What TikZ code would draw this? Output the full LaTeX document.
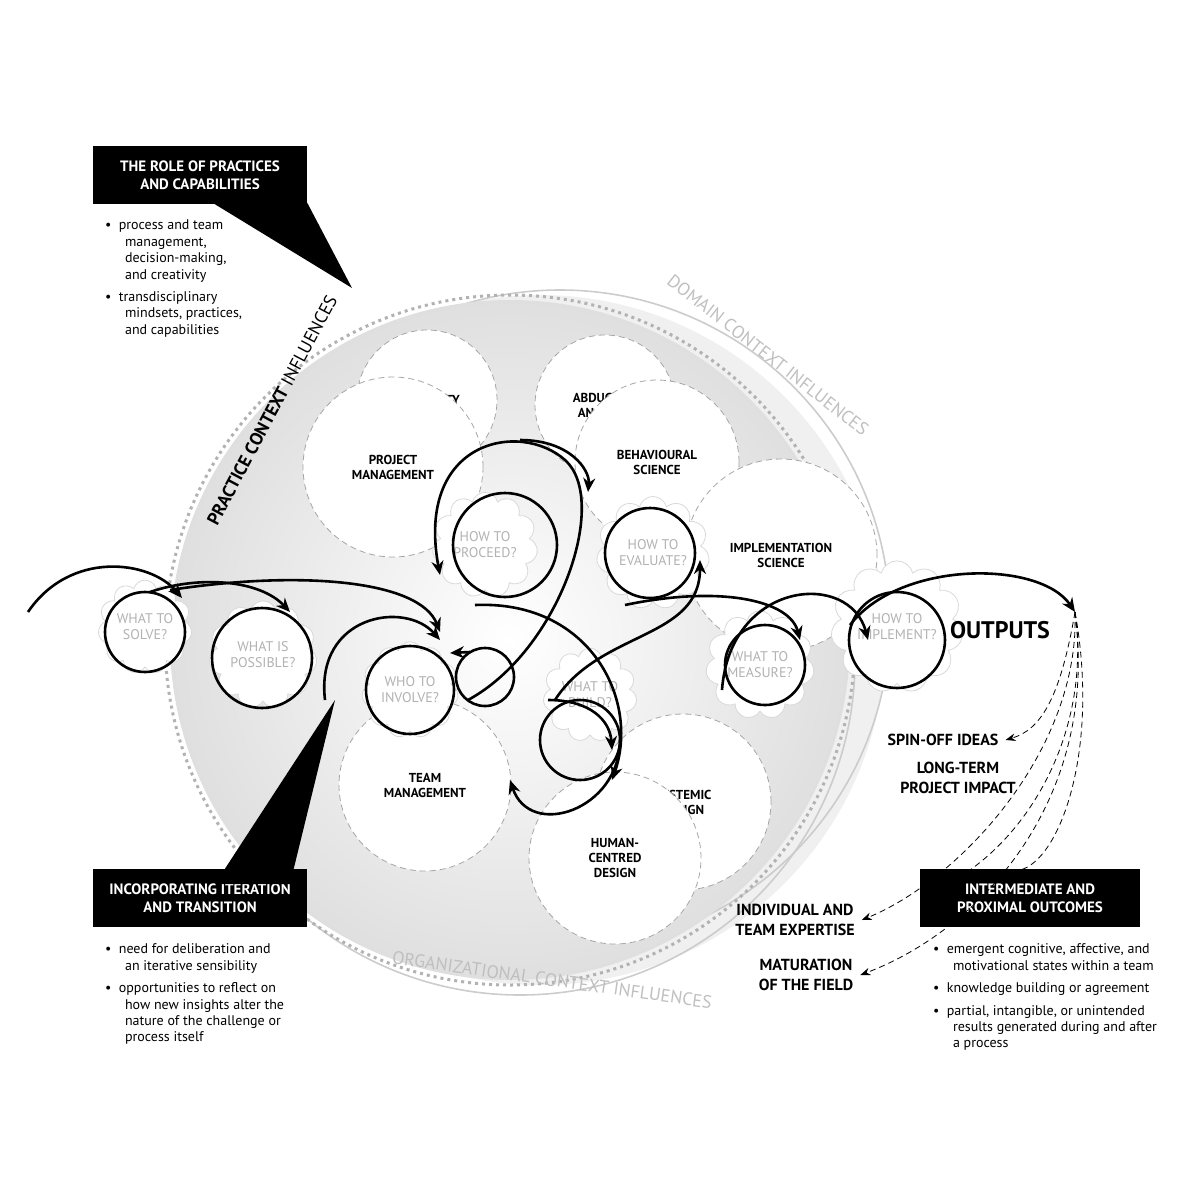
\documentclass[tikz,border=0pt]{standalone}
\usepackage{fontspec}
\setmainfont{PT Sans}
\usetikzlibrary{arrows.meta,shapes.symbols,calc}

\tikzset{
  skill/.style={circle,draw=gray!70,densely dashed,fill=white,align=center,font=\bfseries\fontsize{6.5}{7.5}\selectfont,inner sep=0pt},
  ask/.style={cloud,cloud puffs=11,draw=gray!30,fill=white,align=center,text=gray!60,font=\fontsize{7}{8}\selectfont,minimum width=46pt,minimum height=36pt,inner sep=0pt},
  flow/.style={line width=1.3pt,-{Stealth[length=7pt,width=6pt]}},
  ring/.style={line width=1.3pt},
  side/.style={densely dashed,-{Stealth[length=5pt]}},
  box/.style={fill=black,text=white,font=\bfseries\fontsize{7.5}{9}\selectfont,align=center,minimum width=107pt,minimum height=29pt},
  note/.style={font=\fontsize{7}{8.2}\selectfont,align=left,anchor=north west},
  result/.style={font=\bfseries\fontsize{8}{10}\selectfont,align=left}
}

\begin{document}
\begin{tikzpicture}[x=0.5pt,y=-0.5pt]
\useasboundingbox (0,0) rectangle (1200,1200);

% context circles
\fill[gray!12] (540,640) circle (345);
\draw[gray!40,thick] (560,620) circle (330);
\draw[gray!40,thick] (520,660) circle (335);
\shade[inner color=white,outer color=gray!25] (510,640) circle (340);
\draw[gray!60,dotted,line width=1.5pt] (510,640) circle (345);

\node[rotate=62,font=\bfseries\fontsize{9}{10}\selectfont] (practice) at (272,410) {PRACTICE CONTEXT \mdseries INFLUENCES};
\node[rotate=-38,text=gray!50,font=\fontsize{9}{10}\selectfont] (domain) at (768,355) {DOMAIN CONTEXT INFLUENCES};
\node[rotate=-8,text=gray!50,font=\fontsize{9}{10}\selectfont] (organization) at (552,980) {ORGANIZATIONAL CONTEXT INFLUENCES};

% capabilities
\node[skill,minimum size=70pt] (creativity) at (427,400) {CREATIVITY};
\node[skill,minimum size=70pt] (abductive) at (605,405) {ABDUCTIVE\\ANALYSIS};
\node[skill,minimum size=90pt] (projman) at (393,467) {PROJECT\\MANAGEMENT};
\node[skill,minimum size=82pt] (behaviour) at (657,462) {BEHAVIOURAL\\SCIENCE};
\node[skill,minimum size=96pt] (implsci) at (781,555) {IMPLEMENTATION\\SCIENCE};
\node[skill,minimum size=86pt] (teamman) at (425,785) {TEAM\\MANAGEMENT};
\node[skill,minimum size=88pt] (systemic) at (683,802) {SYSTEMIC\\DESIGN};
\node[skill,minimum size=86pt] (human) at (615,858) {HUMAN-\\CENTRED\\DESIGN};

% questions
\node[ask] (solve) at (145,627) {WHAT TO\\SOLVE?};
\node[ask] (possible) at (263,655) {WHAT IS\\POSSIBLE?};
\node[ask] (involve) at (410,690) {WHO TO\\INVOLVE?};
\node[ask] (proceed) at (485,545) {HOW TO\\PROCEED?};
\node[ask] (evaluate) at (653,553) {HOW TO\\EVALUATE?};
\node[ask] (build) at (590,695) {WHAT TO\\BUILD?};
\node[ask] (measure) at (760,665) {WHAT TO\\MEASURE?};
\node[ask] (implement) at (897,627) {HOW TO\\IMPLEMENT?};

% loops
\coordinate (start) at (28,612);
\coordinate (fork) at (1075,612);
\draw[flow] (start) .. controls (70,550) and (150,560) .. (182,598);
\draw[ring] (145,632) circle (40);
\draw[flow] (150,592) .. controls (200,575) and (260,580) .. (290,612);
\draw[ring] (262,658) circle (50);
\draw[flow] (170,590) .. controls (300,570) and (420,580) .. (440,632);
\draw[flow] (325,700) .. controls (315,615) and (405,600) .. (440,640);
\draw[ring] (410,690) circle (44);
\draw[ring] (485,677) circle (29);
\draw[flow] (470,652) -- (450,653);
\draw[flow] (468,700) .. controls (560,650) and (610,500) .. (565,460)
  .. controls (520,420) and (415,440) .. (440,575);
\draw[ring] (505,545) circle (52);
\draw[flow] (520,440) .. controls (570,440) and (590,470) .. (588,492);
\draw[flow] (475,605) .. controls (590,600) and (640,700) .. (612,780);
\draw[ring] (580,740) circle (40);
\draw[flow] (548,700) .. controls (590,700) and (610,720) .. (612,750);
\draw[flow] (620,740) .. controls (620,810) and (530,840) .. (510,780);
\draw[ring] (650,553) circle (45);
\draw[flow] (555,700) .. controls (600,630) and (700,640) .. (700,560);
\draw[flow] (625,605) .. controls (720,585) and (790,600) .. (800,640);
\draw[ring] (765,665) circle (40);
\draw[flow] (722,690) .. controls (730,580) and (850,570) .. (868,640);
\draw[ring] (897,640) circle (48);
\draw[flow] (850,625) .. controls (900,560) and (1040,560) .. (fork);

\node[font=\bfseries\fontsize{12}{14}\selectfont] (outputs) at (1000,630) {OUTPUTS};
\node[result] (spinoff) at (943,740) {SPIN-OFF IDEAS};
\node[result,align=center] (longterm) at (958,778) {LONG-TERM\\PROJECT IMPACT};
\node[result,align=center] (expertise) at (795,920) {INDIVIDUAL AND\\TEAM EXPERTISE};
\node[result,align=center] (maturation) at (806,975) {MATURATION\\OF THE FIELD};

% callouts
\node[box] (rolebox) at (200,175) {THE ROLE OF PRACTICES\\AND CAPABILITIES};
\fill (190,189) -- (300,189) -- (352,288) -- cycle;
\node[box] (iterbox) at (200,898) {INCORPORATING ITERATION\\AND TRANSITION};
\fill (215,884) -- (290,884) -- (335,700) -- cycle;
\node[box,minimum width=110pt] (outbox) at (1030,898) {INTERMEDIATE AND\\PROXIMAL OUTCOMES};

\draw[side] (fork) .. controls (1060,700) and (1040,730) .. (spinoff.east);
\draw[side] (fork) .. controls (1080,750) and (960,880) .. (expertise.east);
\draw[side] (fork) .. controls (1100,800) and (980,930) .. (maturation.east);
\draw[densely dashed] (fork) .. controls (1100,750) and (1060,860) .. (1020,870);
\draw[densely dashed] (fork) .. controls (1090,720) and (1040,820) .. (970,870);

\node[note] (rolenotes) at (98,213) {\textbullet\ \ process and team\\\hspace*{10pt}management,\\\hspace*{10pt}decision-making,\\\hspace*{10pt}and creativity\\[3pt]\textbullet\ \ transdisciplinary\\\hspace*{10pt}mindsets, practices,\\\hspace*{10pt}and capabilities};
\node[note] (iternotes) at (98,937) {\textbullet\ \ need for deliberation and\\\hspace*{10pt}an iterative sensibility\\[3pt]\textbullet\ \ opportunities to reflect on\\\hspace*{10pt}how new insights alter the\\\hspace*{10pt}nature of the challenge or\\\hspace*{10pt}process itself};
\node[note] (outnotes) at (926,937) {\textbullet\ \ emergent cognitive, affective, and\\\hspace*{10pt}motivational states within a team\\[3pt]\textbullet\ \ knowledge building or agreement\\[3pt]\textbullet\ \ partial, intangible, or unintended\\\hspace*{10pt}results generated during and after\\\hspace*{10pt}a process};
\end{tikzpicture}
\end{document}
